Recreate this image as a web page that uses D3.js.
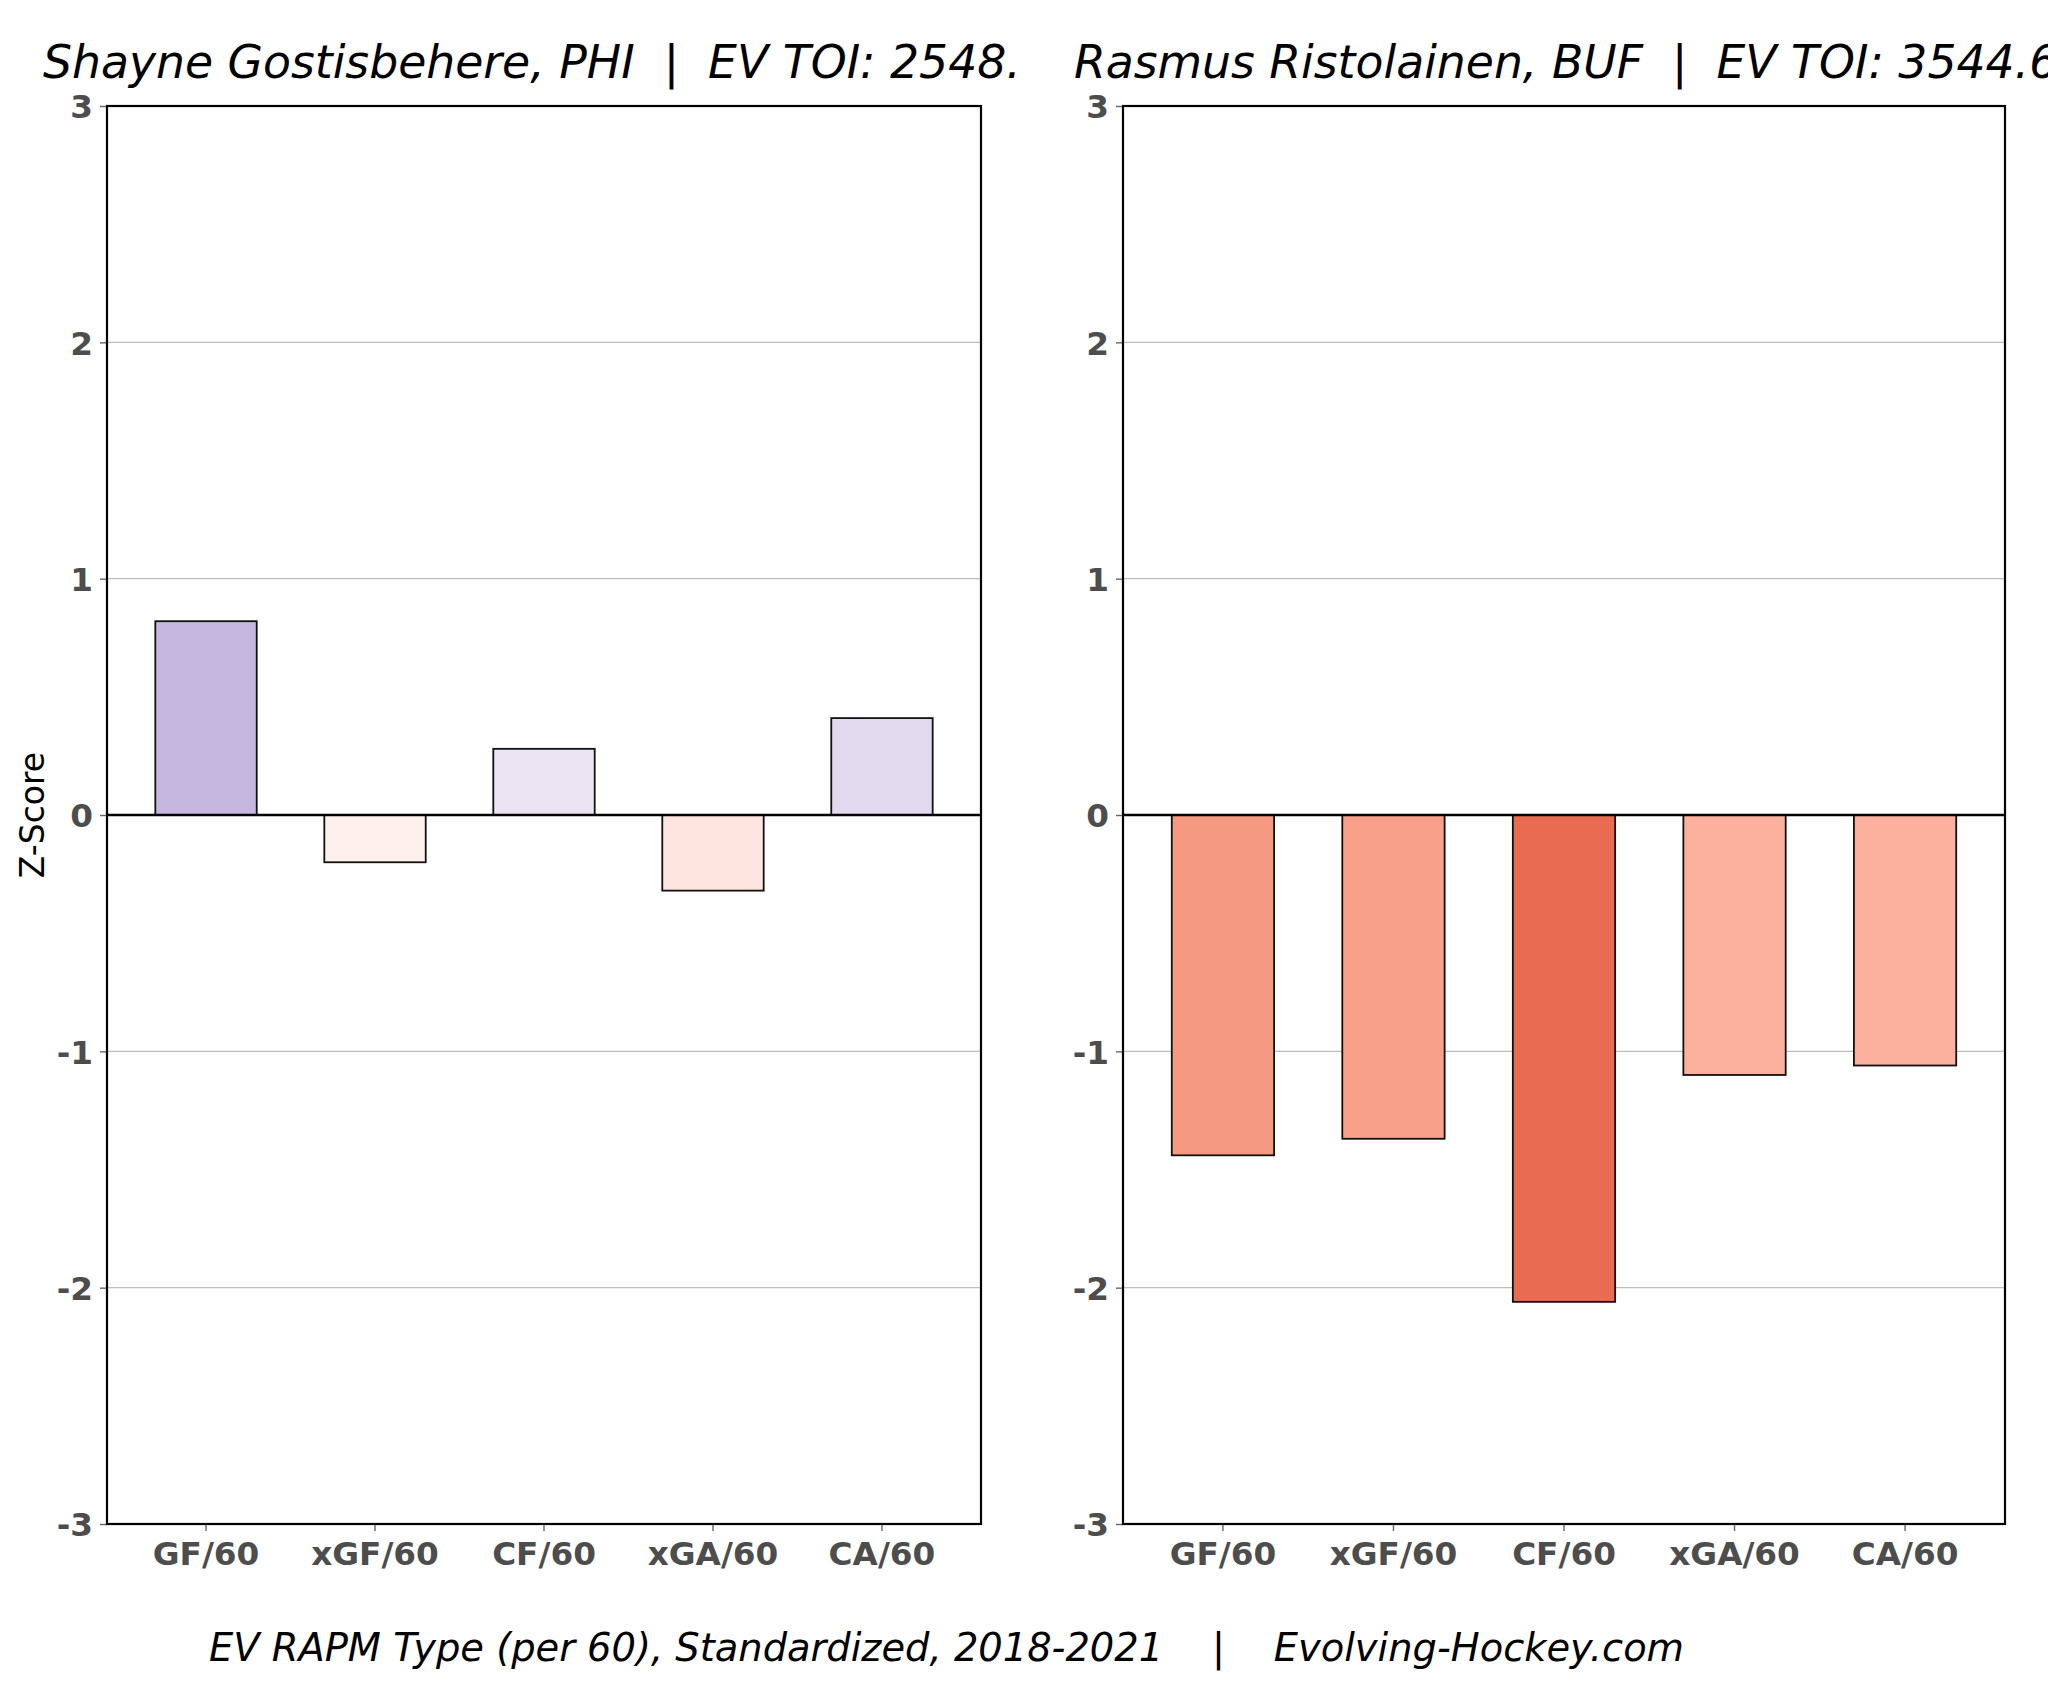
<!DOCTYPE html>
<html>
<head>
<meta charset="utf-8">
<script src="https://cdn.jsdelivr.net/npm/d3@7"></script>
<style>
  body { margin: 0; background: #fff; }
  svg { display: block; font-family: "DejaVu Sans", sans-serif; }
</style>
</head>
<body>
<svg id="chart" width="2048" height="1686"></svg>
<script>
// metrics and values
const metrics = ["GF/60", "xGF/60", "CF/60", "xGA/60", "CA/60"];
const yTicks = [-3, -2, -1, 0, 1, 2, 3];

const leftTitle = "Shayne Gostisbehere, PHI  |  EV TOI: 2548.";
const leftValues = [0.82, -0.20, 0.28, -0.32, 0.41];
const leftFills = ["#c6b7e0", "#fef0ec", "#ebe5f3", "#fee5e0", "#e1d9ee"];

const rightTitle = "Rasmus Ristolainen, BUF  |  EV TOI: 3544.6";
const rightValues = [-1.44, -1.37, -2.06, -1.10, -1.06];
const rightFills = ["#f59a80", "#f8a08a", "#e96c52", "#fcb19e", "#fcb19e"];

const caption = "EV RAPM Type (per 60), Standardized, 2018-2021    |    Evolving-Hockey.com";

const svg = d3.select("#chart");
const plotTop = 106, plotBottom = 1524;
const tickColor = "#4d4d4d";

const y = d3.scaleLinear().domain([-3, 3]).range([plotBottom, plotTop]);

function panel(x0, x1, values, fills, title, titleX) {
    const g = svg.append("g");

    const x = d3.scaleBand()
        .domain(metrics)
        .range([x0, x1])
        .paddingInner(0.4)
        .paddingOuter(0.286);

    // grid
    g.append("g").selectAll("line")
        .data(yTicks.filter(d => d !== 0 && Math.abs(d) !== 3))
        .join("line")
        .attr("x1", x0).attr("x2", x1)
        .attr("y1", d => y(d)).attr("y2", d => y(d))
        .attr("stroke", "#bdbdbd")
        .attr("stroke-width", 1.3);

    // bars
    g.append("g").selectAll("rect")
        .data(values)
        .join("rect")
        .attr("x", (d, i) => x(metrics[i]))
        .attr("width", x.bandwidth())
        .attr("y", d => y(Math.max(0, d)))
        .attr("height", d => Math.abs(y(d) - y(0)))
        .attr("fill", (d, i) => fills[i])
        .attr("stroke", "#111")
        .attr("stroke-width", 1.8);

    // zero line
    g.append("line")
        .attr("x1", x0).attr("x2", x1)
        .attr("y1", y(0)).attr("y2", y(0))
        .attr("stroke", "#000")
        .attr("stroke-width", 2.6);

    // axes (plain hyphen for negatives, like the source)
    const yAxis = g.append("g")
        .attr("transform", `translate(${x0},0)`)
        .call(d3.axisLeft(y).tickValues(yTicks).tickFormat(d => String(d)).tickSize(7).tickPadding(7));
    const xAxis = g.append("g")
        .attr("transform", `translate(0,${plotBottom})`)
        .call(d3.axisBottom(x).tickSize(7).tickPadding(9));

    [yAxis, xAxis].forEach(a => {
        a.select(".domain").remove();
        a.selectAll(".tick line").attr("stroke", "#666").attr("stroke-width", 1.4);
        a.selectAll(".tick text")
            .attr("fill", tickColor)
            .style("font-family", "DejaVu Sans")
            .style("font-weight", "bold")
            .style("font-size", "32.7px");
    });
    yAxis.selectAll(".tick text").attr("dy", "0.36em");
    xAxis.selectAll(".tick text").attr("dy", "0.76em");

    // frame
    g.append("rect")
        .attr("x", x0).attr("y", plotTop)
        .attr("width", x1 - x0).attr("height", plotBottom - plotTop)
        .attr("fill", "none")
        .attr("stroke", "#000")
        .attr("stroke-width", 2.2);

    g.append("text")
        .attr("x", titleX).attr("y", 78)
        .style("font-style", "italic")
        .style("font-size", "45.7px")
        .style("white-space", "pre")
        .attr("fill", "#000")
        .text(title);
}

panel(107, 981, leftValues, leftFills, leftTitle, 43);
panel(1123, 2005, rightValues, rightFills, rightTitle, 1074);

svg.append("text")
    .attr("transform", `translate(44,${y(0)}) rotate(-90)`)
    .attr("text-anchor", "middle")
    .style("font-size", "33px")
    .attr("fill", "#000")
    .text("Z-Score");

svg.append("text")
    .attr("x", 209).attr("y", 1661)
    .style("font-style", "italic")
    .style("font-size", "38.4px")
    .style("white-space", "pre")
    .attr("fill", "#000")
    .text(caption);
</script>
</body>
</html>
